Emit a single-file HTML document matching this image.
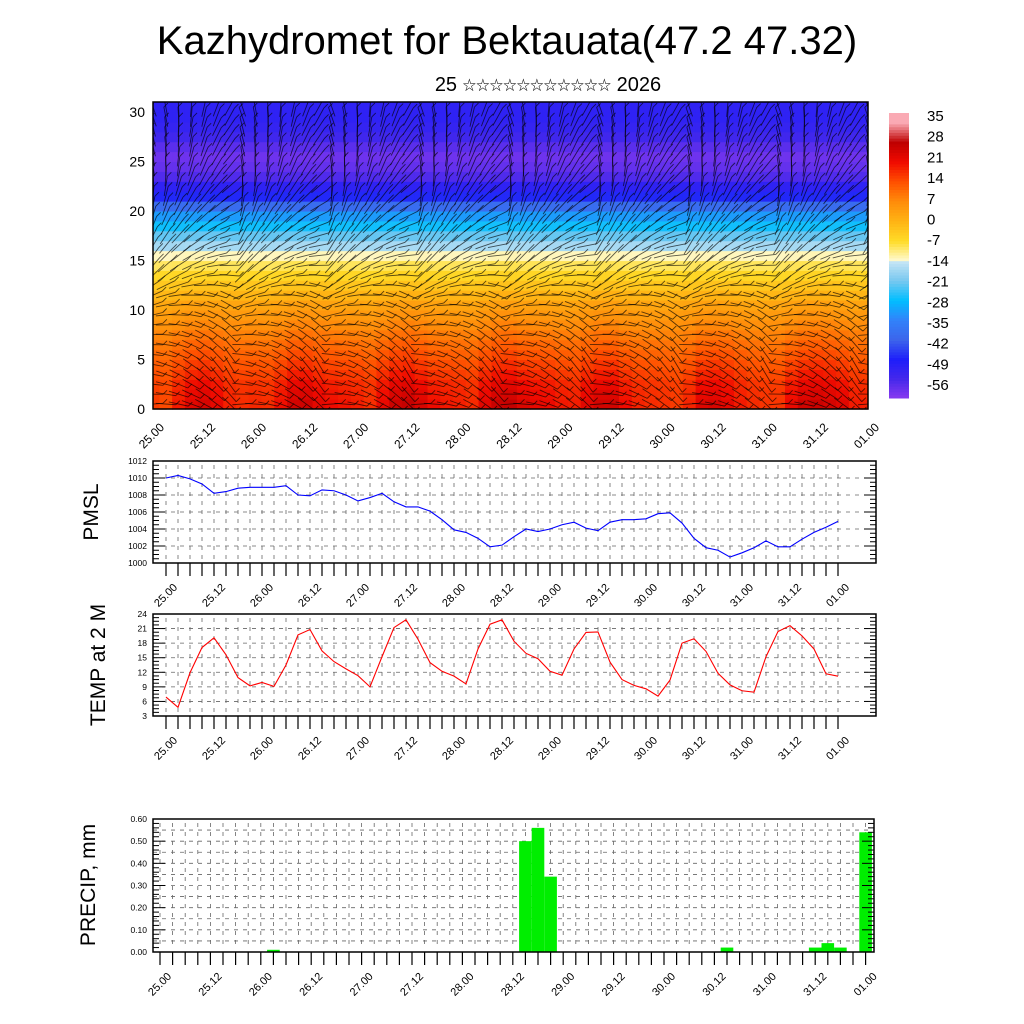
<!DOCTYPE html>
<html><head><meta charset="utf-8"><style>
html,body{margin:0;padding:0;background:#fff;}
svg{display:block;font-family:"Liberation Sans","Noto Sans CJK SC",sans-serif;}
</style></head><body>
<svg id="chart" width="1024" height="1024" viewBox="0 0 1024 1024" xmlns="http://www.w3.org/2000/svg">
<defs><clipPath id="topclip"><rect x="153" y="102" width="715" height="307"/></clipPath></defs>
<text x="507" y="54" font-size="40" text-anchor="middle">Kazhydromet for Bektauata(47.2 47.32)</text>
<text x="548" y="91" font-size="20" text-anchor="middle">25 <tspan font-size="13.5" dy="-1">☆☆☆☆☆☆☆☆☆☆☆</tspan><tspan dy="1"> 2026</tspan></text>
<text transform="translate(98,512) rotate(-90)" font-size="21" text-anchor="middle">PMSL</text>
<text transform="translate(105,665) rotate(-90)" font-size="21" text-anchor="middle">TEMP at 2 M</text>
<text transform="translate(95,885) rotate(-90)" font-size="21" text-anchor="middle">PRECIP, mm</text>
<g id="top"></g>
<g id="cbar"></g>
<g id="pmsl"></g>
<g id="temp"></g>
<g id="prec"></g>
</svg>
<script>
const timeLabels=["25.00","25.12","26.00","26.12","27.00","27.12","28.00","28.12","29.00","29.12","30.00","30.12","31.00","31.12","01.00"];
const pmslValues=[1010.0,1010.3,1009.9,1009.3,1008.2,1008.4,1008.8,1008.9,1008.9,1008.9,1009.1,1008.0,1007.9,1008.6,1008.5,1008.0,1007.3,1007.7,1008.2,1007.2,1006.6,1006.6,1006.1,1005.1,1003.9,1003.6,1002.9,1001.9,1002.1,1003.1,1004.0,1003.7,1004.0,1004.5,1004.8,1004.1,1003.8,1004.8,1005.1,1005.1,1005.2,1005.8,1005.9,1004.7,1002.9,1001.8,1001.5,1000.7,1001.2,1001.8,1002.6,1001.9,1001.9,1002.8,1003.6,1004.2,1004.9];
const tempValues=[6.9,4.8,11.9,17.1,19.1,15.6,10.9,9.2,9.9,9.1,13.5,19.7,20.8,16.4,14.2,12.7,11.3,9.0,15.2,21.2,22.8,18.8,14.0,12.2,11.2,9.6,16.8,21.9,22.8,18.4,15.9,14.8,12.2,11.4,16.8,20.2,20.3,14.1,10.5,9.3,8.6,7.1,10.4,18.0,18.9,16.3,11.8,9.4,8.2,7.9,15.2,20.4,21.6,19.5,16.8,11.7,11.2];
const precipIndex=[9,29,30,31,45,52,53,54,56];
const precipValues=[0.01,0.50,0.56,0.34,0.02,0.02,0.04,0.02,0.54];
const profileTemps=[21,20,19,17,15,13,11,9,7,5,3,0,-3,-6,-9,-13,-17,-22,-27,-32,-40,-48,-52,-57,-59,-60,-58,-55,-53,-52,-52,-52];
const windAngles=[20,25,30,35,35,30,25,20,15,10,5,0,-10,-20,-25,-30,-35,-40,-45,-50,-55,-60,-65,-70,-75,-75,-80,-80,-80,-85,-85,-85];
const cbarLabels=[35,28,21,14,7,0,-7,-14,-21,-28,-35,-42,-49,-56];

const NS="http://www.w3.org/2000/svg";
function mk(p,t,a){const e=document.createElementNS(NS,t);for(const k in a)e.setAttribute(k,a[k]);p.appendChild(e);return e;}
const stops=[[-63,[140,60,240]],[-56,[70,40,235]],[-49,[30,30,250]],[-42,[60,100,235]],[-35,[50,130,250]],[-28,[0,190,255]],[-21,[120,200,240]],[-14,[200,230,245]],[-13.9,[255,250,210]],[-7,[255,220,40]],[0,[255,180,20]],[7,[255,140,10]],[14,[255,80,0]],[21,[240,10,0]],[28,[190,0,0]],[35,[250,170,180]]];
function cmap(v){if(v<=stops[0][0])return `rgb(${stops[0][1]})`;for(let i=1;i<stops.length;i++){if(v<=stops[i][0]){const a=stops[i-1],b=stops[i];const t=(v-a[0])/(b[0]-a[0]);const c=a[1].map((x,j)=>Math.round(x+(b[1][j]-x)*t));return `rgb(${c})`;}}return `rgb(${stops[stops.length-1][1]})`;}

function xAxisLabels(g,x0,step,y,name,fs){
  timeLabels.forEach((l,k)=>{const x=x0+k*step;const t=mk(g,'text',{x:x+12,y:y,'font-size':fs||11,'text-anchor':'end',transform:`rotate(-45 ${x+12} ${y})`});t.textContent=l;
  
  });
}

// top panel
(function(){
  const g=document.getElementById('top');
  const X0=153,X1=868,Y0=409,Ytop=102;
  const sx=i=>X0+i*(X1-X0)/56, sy=h=>Y0-h*(Y0-Ytop)/31;
  for(let i=0;i<57;i++){for(let h=0;h<31;h++){
    const surf=(tempValues[i]-14)*0.7*Math.exp(-h/5);
    const v=profileTemps[h]+surf;
    const x=sx(i-0.5),w=sx(i+0.5)-x;
    const r=mk(g,'rect',{x:Math.max(X0,x),y:sy(h+1),width:Math.min(w+1,X1-Math.max(X0,x)),height:sy(h)-sy(h+1)+0.6,fill:cmap(v)});
    
    
  }}
  const wg=mk(g,'g',{stroke:'#000','stroke-width':0.9,'stroke-opacity':0.65,'clip-path':'url(#topclip)'});
  
  
  for(let i=0;i<57;i++){for(let h=0;h<31;h++){
    const a=(windAngles[h]+((i%7)-3)*8)*Math.PI/180;const L=10;
    const cx=sx(i),cy=sy(h+0.5);
    mk(wg,'line',{x1:cx-L*Math.cos(a),y1:cy-L*Math.sin(a),x2:cx+L*Math.cos(a),y2:cy+L*Math.sin(a)});
    mk(wg,'line',{x1:cx+L*Math.cos(a),y1:cy+L*Math.sin(a),x2:cx+L*Math.cos(a)+4,y2:cy+L*Math.sin(a)-4});
  }}
  mk(g,'rect',{x:X0,y:Ytop,width:X1-X0,height:Y0-Ytop,fill:'none',stroke:'#000','stroke-width':1.5});
  [0,5,10,15,20,25,30].forEach(v=>{const t=mk(g,'text',{x:X0-8,y:sy(v)+5,'font-size':14,'text-anchor':'end'});t.textContent=v;
  });
  xAxisLabels(g,X0,(X1-X0)/14,428,'top',12);
})();

// colorbar
(function(){
  const g=document.getElementById('cbar');const y0=113,y1=398,n=100;
  for(let k=0;k<n;k++){const v=38-k*(38+63)/n;mk(g,'rect',{x:889,y:y0+k*(y1-y0)/n,width:20,height:(y1-y0)/n+0.5,fill:cmap(v)});}
  cbarLabels.forEach((v,k)=>{const t=mk(g,'text',{x:927,y:121+k*20.7,'font-size':15});t.textContent=v;
  });
})();

function linePanel(id,vals,ymin,ymax,ticks,color,top,bot,tickFmt){
  const g=document.getElementById(id);const FX0=153,FX1=876,DX0=166,step=12;
  const sy=v=>bot-(v-ymin)/(ymax-ymin)*(bot-top);
  const gg=mk(g,'g',{stroke:'#666','stroke-width':0.8,'stroke-dasharray':'4,5'});
  for(let i=0;i<57;i++)mk(gg,'line',{x1:DX0+i*step,y1:top+4,x2:DX0+i*step,y2:bot-4});
  ticks.forEach(v=>{mk(gg,'line',{x1:FX0,y1:sy(v),x2:FX1,y2:sy(v)});});
  const tg=mk(g,'g',{stroke:'#000','stroke-width':1});
  for(let k=0;k<=(ticks.length-1)*4;k++){const v=ymin+k*(ymax-ymin)/((ticks.length-1)*4);const L=k%4==0?12:6;
    mk(tg,'line',{x1:FX0,y1:sy(v),x2:FX0+L,y2:sy(v)});mk(tg,'line',{x1:FX1,y1:sy(v),x2:FX1-L,y2:sy(v)});}
  for(let i=0;i<57;i++)mk(tg,'line',{x1:DX0+i*step,y1:bot,x2:DX0+i*step,y2:bot+13,'stroke-width':1.2});
  mk(g,'rect',{x:FX0,y:top,width:FX1-FX0,height:bot-top,fill:'none',stroke:'#000','stroke-width':1.5});
  ticks.forEach(v=>{const t=mk(g,'text',{x:FX0-6,y:sy(v)+3,'font-size':8.5,'text-anchor':'end'});t.textContent=tickFmt(v);
  });
  const d=vals.map((v,i)=>(i?'L':'M')+(DX0+i*step)+','+sy(v)).join('');
  const p=mk(g,'path',{d:d,fill:'none',stroke:color,'stroke-width':1.1});
  
  
  xAxisLabels(g,DX0,step*4,bot+25,id);
}
linePanel('pmsl',pmslValues,1000,1012,[1000,1002,1004,1006,1008,1010,1012],'#0000ff',461,563,v=>v);
linePanel('temp',tempValues,3,24,[3,6,9,12,15,18,21,24],'#ff0000',614,716,v=>v);

// precip
(function(){
  const g=document.getElementById('prec');const FX0=153,FX1=874,DX0=160,step=12.6,top=819,bot=952;
  const sy=v=>bot-v/0.6*(bot-top);
  const gg=mk(g,'g',{stroke:'#666','stroke-width':0.8,'stroke-dasharray':'4,5'});
  for(let i=0;i<57;i++)mk(gg,'line',{x1:DX0+i*step,y1:top+4,x2:DX0+i*step,y2:bot-4});
  for(let k=1;k<12;k++)mk(gg,'line',{x1:FX0,y1:sy(k*0.05),x2:FX1,y2:sy(k*0.05)});
  precipIndex.forEach((idx,j)=>{const r=mk(g,'rect',{x:DX0+(idx-0.5)*step,y:sy(precipValues[j]),width:step,height:bot-sy(precipValues[j]),fill:'#00ee00'});
    
    });
  const tg=mk(g,'g',{stroke:'#000','stroke-width':1});
  for(let k=0;k<=30;k++){const L=k%5==0?12:6;mk(tg,'line',{x1:FX0,y1:sy(k*0.02),x2:FX0+L,y2:sy(k*0.02)});mk(tg,'line',{x1:FX1,y1:sy(k*0.02),x2:FX1-L,y2:sy(k*0.02)});}
  for(let i=0;i<57;i++)mk(tg,'line',{x1:DX0+i*step,y1:bot,x2:DX0+i*step,y2:bot+13,'stroke-width':1.2});
  mk(g,'rect',{x:FX0,y:top,width:FX1-FX0,height:bot-top,fill:'none',stroke:'#000','stroke-width':1.5});
  for(let k=0;k<=6;k++){const t=mk(g,'text',{x:FX0-6,y:sy(k*0.1)+3,'font-size':8.5,'text-anchor':'end'});t.textContent=(k*0.1).toFixed(2);
    }
  xAxisLabels(g,DX0,step*4,bot+25,'prec');
})();
</script>
</body></html>
